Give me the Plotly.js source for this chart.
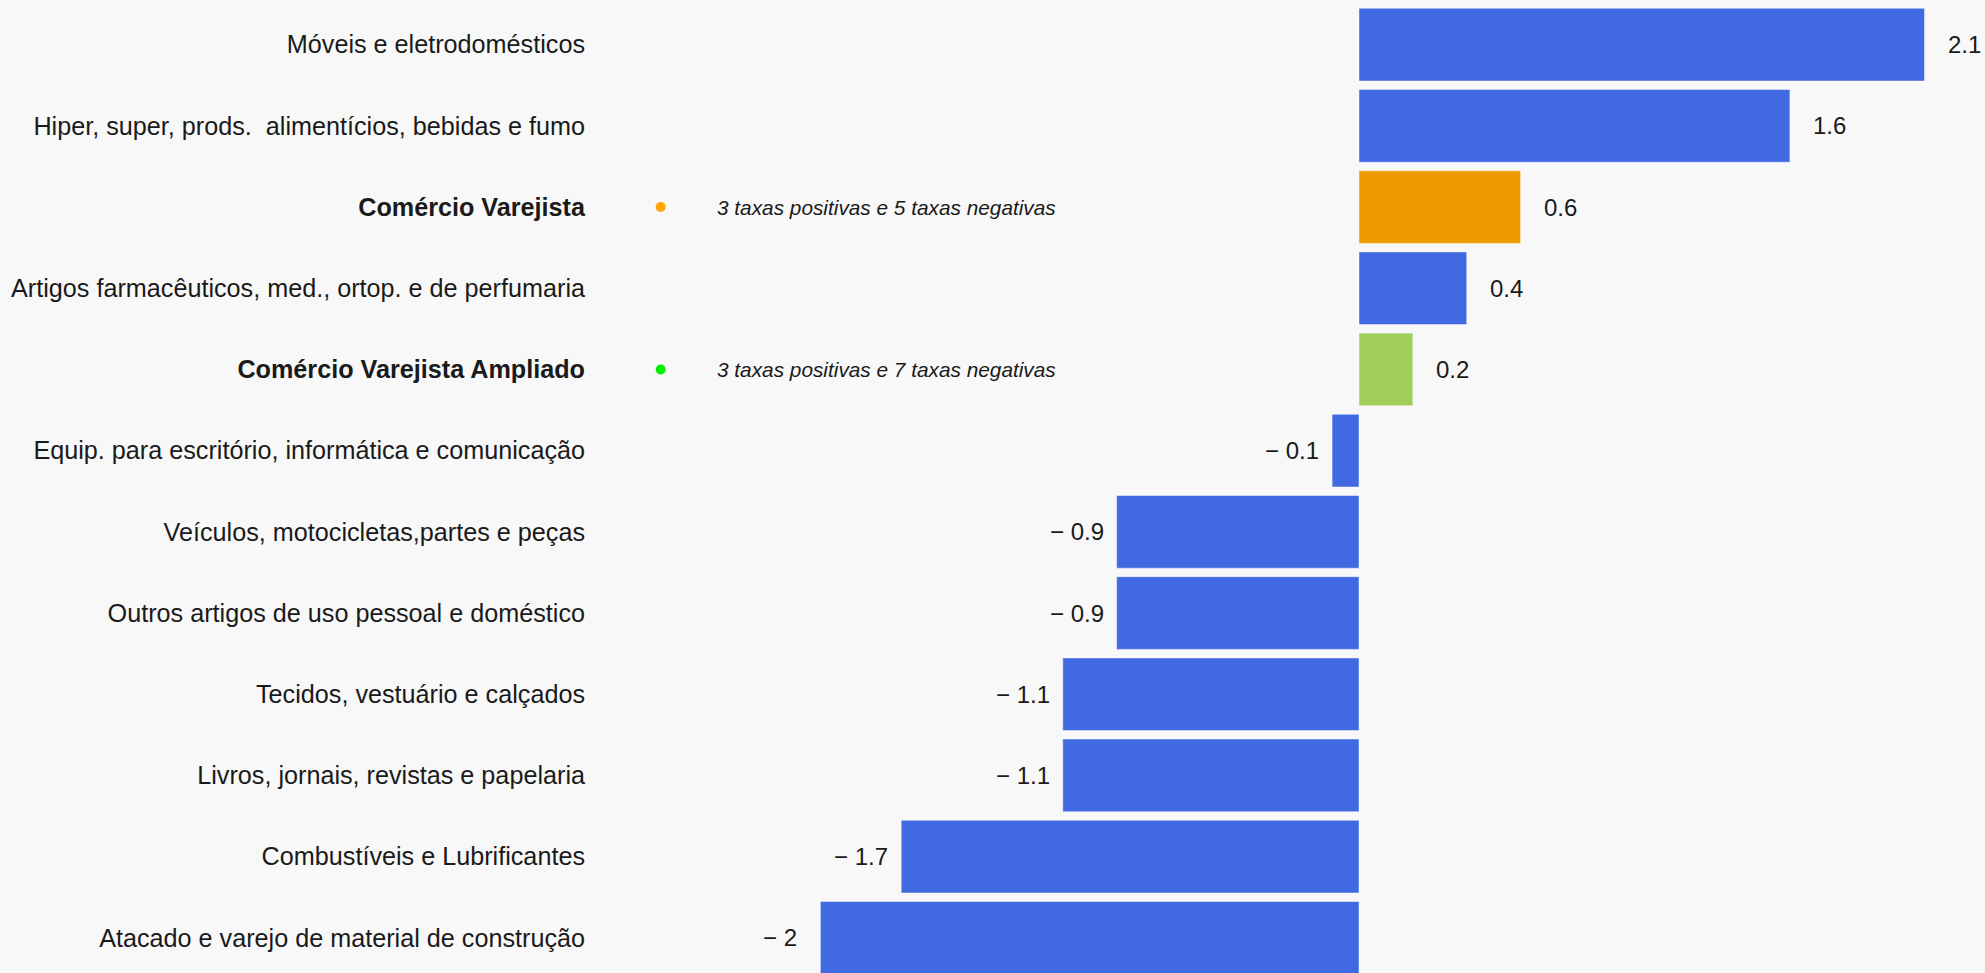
<!DOCTYPE html>
<html>
<head>
<meta charset="utf-8">
<script src="https://cdn.plot.ly/plotly-3.0.1.min.js"></script>
<style>
  html, body { margin: 0; padding: 0; background: #F8F8F8; }
  #chart { width: 1985px; height: 973px; }
</style>
</head>
<body>
<div id="chart"></div>
<script>
// ---- Data ----
const categories = [
  "Móveis e eletrodomésticos",
  "Hiper, super, prods.  alimentícios, bebidas e fumo",
  "Comércio Varejista",
  "Artigos farmacêuticos, med., ortop. e de perfumaria",
  "Comércio Varejista Ampliado",
  "Equip. para escritório, informática e comunicação",
  "Veículos, motocicletas,partes e peças",
  "Outros artigos de uso pessoal e doméstico",
  "Tecidos, vestuário e calçados",
  "Livros, jornais, revistas e papelaria",
  "Combustíveis e Lubrificantes",
  "Atacado e varejo de material de construção"
];
const values = [2.1, 1.6, 0.6, 0.4, 0.2, -0.1, -0.9, -0.9, -1.1, -1.1, -1.7, -2];
const summaryCategories = ["Comércio Varejista", "Comércio Varejista Ampliado"];
const summaryNotes = ["3 taxas positivas e 5 taxas negativas", "3 taxas positivas e 7 taxas negativas"];

// ---- Styles ----
const BASE = "#4169E1";
const SUMMARY_BAR = ["#EE9A00", "#A2CD5A"];
const SUMMARY_DOT = ["#FFA500", "#00EE00"];
const FONT = "Liberation Sans, Arial, sans-serif";

const barColors = categories.map(c => {
  const i = summaryCategories.indexOf(c);
  return i >= 0 ? SUMMARY_BAR[i] : BASE;
});
const tickText = categories.map(c => summaryCategories.includes(c) ? "<b>" + c + "</b>" : c);
const fmt = v => v < 0 ? "\u2212 " + String(Math.abs(v)) : String(v);

const bars = {
  type: "bar",
  orientation: "h",
  y: categories,
  x: values,
  marker: { color: barColors, line: { color: "rgba(255,255,255,0.45)", width: 1 } },
  hoverinfo: "x+y",
  showlegend: false
};

const DOT_X = -2.593;
const NOTE_X = -2.391;
const dots = {
  type: "scatter",
  mode: "markers",
  x: summaryCategories.map(() => DOT_X),
  y: summaryCategories,
  marker: { color: SUMMARY_DOT, size: 10 },
  cliponaxis: false,
  hoverinfo: "skip",
  showlegend: false
};

const annotations = [];
values.forEach((v, i) => {
  annotations.push({
    x: v, y: categories[i], xref: "x", yref: "y",
    text: fmt(v), showarrow: false,
    xanchor: "center", yanchor: "middle",
    xshift: v < 0 ? -40 : 40,
    font: { family: FONT, size: 24, color: "#1a1a1a" }
  });
});
summaryCategories.forEach((c, i) => {
  annotations.push({
    x: NOTE_X, y: c, xref: "x", yref: "y",
    text: summaryNotes[i], showarrow: false,
    xanchor: "left", yanchor: "middle",
    font: { family: FONT, size: 20.8, color: "#1a1a1a", style: "italic" }
  });
});

const layout = {
  width: 1985, height: 973,
  margin: { l: 586, r: 0, t: 0, b: 0, pad: 0 },
  paper_bgcolor: "#F8F8F8",
  plot_bgcolor: "#F8F8F8",
  bargap: 0.105,
  showlegend: false,
  xaxis: {
    range: [-2.8704, 2.3245],
    showgrid: false, zeroline: false, showticklabels: false, showline: false, ticks: ""
  },
  yaxis: {
    type: "category",
    range: [11.433, -0.55],
    tickmode: "array",
    tickvals: categories,
    ticktext: tickText,
    showgrid: false, zeroline: false, showline: false, ticks: "",
    tickfont: { family: FONT, size: 25.2, color: "#1a1a1a" },
    automargin: false
  },
  annotations: annotations
};

Plotly.newPlot("chart", [bars, dots], layout, { displayModeBar: false, staticPlot: true });
</script>
</body>
</html>
